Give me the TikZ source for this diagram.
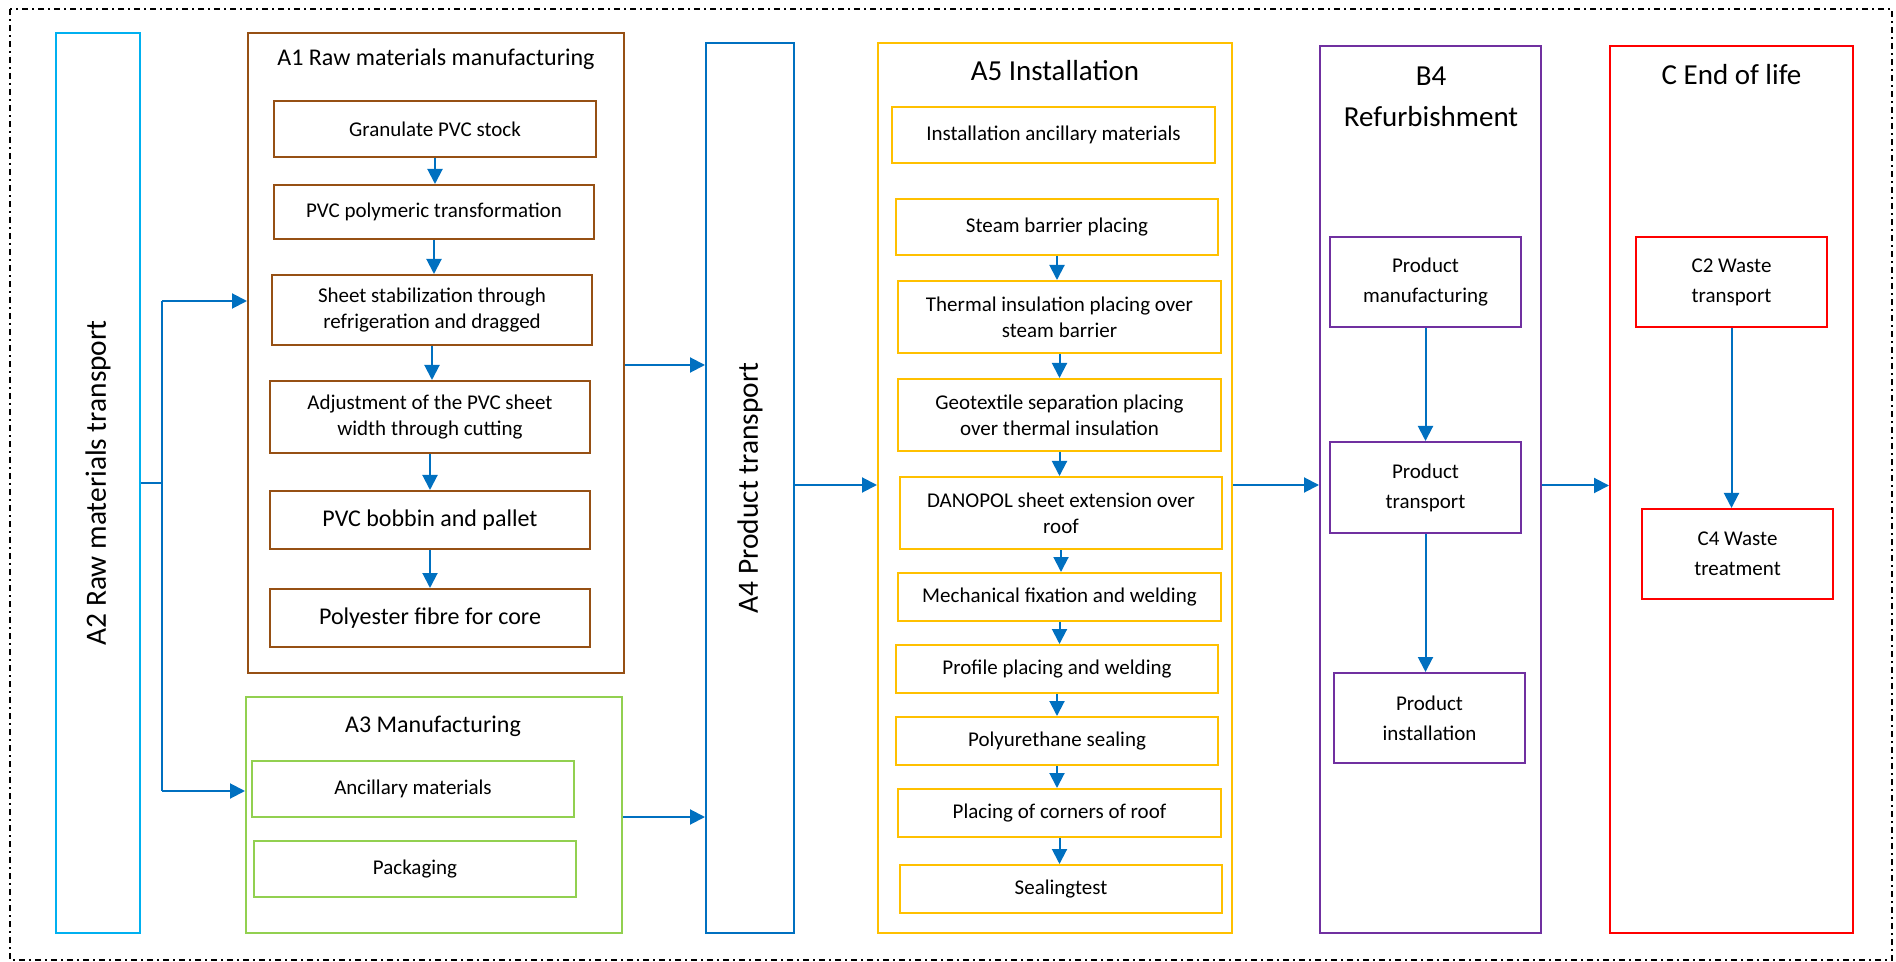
\documentclass[tikz,border=0pt]{standalone}
\usepackage{fontspec}
\setmainfont{Carlito}
\usetikzlibrary{arrows.meta,positioning}

\definecolor{tcyan}{HTML}{00B0F0}
\definecolor{tbrown}{RGB}{150,80,20}
\definecolor{tgreen}{HTML}{92D050}
\definecolor{tblue}{HTML}{0070C0}
\definecolor{tyellow}{HTML}{FFC000}
\definecolor{tpurple}{HTML}{7030A0}
\definecolor{tred}{HTML}{FF0000}

\newcommand{\stepfont}{\fontsize{10.5}{12.8}\selectfont}
\newcommand{\midfont}{\fontsize{12}{14.5}\selectfont}
\newcommand{\headfont}{\fontsize{14.5}{20.5}\selectfont}
\newcommand{\sidefont}{\fontsize{14.7}{17}\selectfont}
\newcommand{\wfont}{\fontsize{10.5}{15}\selectfont}

\begin{document}
\begin{tikzpicture}[x=0.5pt, y=-0.5pt,
  >={Triangle[width=7.5pt,length=7.5pt]},
  every node/.style={inner sep=0pt, align=center, font=\stepfont},
  stage/.style={draw=#1, line width=1pt},
  stepbox/.style={draw=#1, line width=1pt},
  flow/.style={->, draw=tblue, fill=tblue, line width=1pt},
  frame/.style={draw=black, line width=1pt, dash pattern=on 3pt off 2pt on 1pt off 2pt}]
\useasboundingbox (0,0) rectangle (1896,962);
\draw[frame] (10,9) rectangle (1892,960);

% A2
\node[stage=tcyan, minimum width=42pt, minimum height=450pt] (A2) at (98,483) {};
\node[rotate=90, font=\sidefont] (A2t) at (A2) {A2 Raw materials transport};

% A1
\node[stage=tbrown, minimum width=188pt, minimum height=320pt] (A1) at (436,353) {};
\node[font=\midfont] (A1t) at (436,59) {A1 Raw materials manufacturing};
\node[stepbox=tbrown, minimum width=161pt, minimum height=28pt] (g1) at (435,129) {Granulate PVC stock};
\node[stepbox=tbrown, minimum width=160pt, minimum height=27pt] (g2) at (434,212) {PVC polymeric transformation};
\node[stepbox=tbrown, minimum width=160pt, minimum height=35pt] (g3) at (432,310) {Sheet stabilization through\\refrigeration and dragged};
\node[stepbox=tbrown, minimum width=160pt, minimum height=36pt] (g4) at (430,417) {Adjustment of the PVC sheet\\width through cutting};
\node[stepbox=tbrown, minimum width=160pt, minimum height=29pt, font=\midfont] (g5) at (430,520) {PVC bobbin and pallet};
\node[stepbox=tbrown, minimum width=160pt, minimum height=29pt, font=\midfont] (g6) at (430,618) {Polyester fibre for core};

% A3
\node[stage=tgreen, minimum width=188pt, minimum height=118pt] (A3) at (434,815) {};
\node[font=\midfont] (A3t) at (433,726) {A3 Manufacturing};
\node[stepbox=tgreen, minimum width=161pt, minimum height=28pt] (m1) at (413,789) {Ancillary materials};
\node[stepbox=tgreen, minimum width=161pt, minimum height=28pt] (m2) at (415,869) {Packaging};

% A4
\node[stage=tblue, minimum width=44pt, minimum height=445pt] (A4) at (750,488) {};
\node[rotate=90, font=\sidefont] (A4t) at (A4) {A4 Product transport};

% A5
\node[stage=tyellow, minimum width=177pt, minimum height=445pt] (A5) at (1055,488) {};
\node[font=\headfont] (A5t) at (1055,71) {A5 Installation};
\node[stepbox=tyellow, minimum width=161.5pt, minimum height=28pt] (i0) at (1053.5,135) {Installation ancillary materials};
\node[stepbox=tyellow, minimum width=161pt, minimum height=28pt] (i1) at (1057,227) {Steam barrier placing};
\node[stepbox=tyellow, minimum width=161.5pt, minimum height=36pt] (i2) at (1059.5,317) {Thermal insulation placing over\\steam barrier};
\node[stepbox=tyellow, minimum width=161.5pt, minimum height=36pt] (i3) at (1059.5,415) {Geotextile separation placing\\over thermal insulation};
\node[stepbox=tyellow, minimum width=161pt, minimum height=36pt] (i4) at (1061,513) {DANOPOL sheet extension over\\roof};
\node[stepbox=tyellow, minimum width=161.5pt, minimum height=24pt] (i5) at (1059.5,597) {Mechanical fixation and welding};
\node[stepbox=tyellow, minimum width=161pt, minimum height=24pt] (i6) at (1057,669) {Profile placing and welding};
\node[stepbox=tyellow, minimum width=161pt, minimum height=24pt] (i7) at (1057,741) {Polyurethane sealing};
\node[stepbox=tyellow, minimum width=161.5pt, minimum height=24pt] (i8) at (1059.5,813) {Placing of corners of roof};
\node[stepbox=tyellow, minimum width=161pt, minimum height=24pt] (i9) at (1061,889) {Sealingtest};

% B4
\node[stage=tpurple, minimum width=110.5pt, minimum height=443.5pt] (B4) at (1430.5,489.5) {};
\node[font=\headfont] (B4t) at (1431,97) {B4\\Refurbishment};
\node[stepbox=tpurple, minimum width=95.5pt, minimum height=45pt, font=\wfont] (b1) at (1425.5,282) {Product\\manufacturing};
\node[stepbox=tpurple, minimum width=95.5pt, minimum height=45.5pt, font=\wfont] (b2) at (1425.5,487.5) {Product\\transport};
\node[stepbox=tpurple, minimum width=95.5pt, minimum height=45pt, font=\wfont] (b3) at (1429.5,718) {Product\\installation};

% C
\node[stage=tred, minimum width=121.5pt, minimum height=443.5pt] (C) at (1731.5,489.5) {};
\node[font=\headfont] (Ct) at (1731.5,75) {C End of life};
\node[stepbox=tred, minimum width=95.5pt, minimum height=45pt, font=\wfont] (c1) at (1731.5,282) {C2 Waste\\transport};
\node[stepbox=tred, minimum width=95.5pt, minimum height=45pt, font=\wfont] (c2) at (1737.5,554) {C4 Waste\\treatment};

% branch out of A2
\coordinate (br1) at (162,301);
\coordinate (br2) at (162,791);
\draw[tblue, line width=1pt] (A2.east) -- (A2.east -| br1);
\draw[tblue, line width=1pt] (br1) -- (br2);
\draw[flow] (br1) -- (br1 -| A1.west);
\draw[flow] (br2) -- (br2 -| A3.west);

% main flow
\draw[flow] ([yshift=-6pt]A1.east) -- ([yshift=-6pt]A1.east -| A4.west);
\draw[flow] ([yshift=-1pt]A3.east) -- ([yshift=-1pt]A3.east -| A4.west);
\draw[flow] ([yshift=1.5pt]A4.east) -- ([yshift=1.5pt]A4.east -| A5.west);
\draw[flow] ([yshift=1.5pt]A5.east) -- ([yshift=1.5pt]A5.east -| B4.west);
\draw[flow] ([yshift=2pt]B4.east) -- ([yshift=2pt]B4.east -| C.west);

% steps inside
\foreach \a/\b in {g1/g2, g2/g3, g3/g4, g4/g5, g5/g6, i1/i2, i2/i3, i3/i4, i4/i5, i5/i6, i6/i7, i7/i8, i8/i9, b1/b2, b2/b3, c1/c2}
  \draw[flow] (\a.south) -- (\a.south |- \b.north);
\end{tikzpicture}
\end{document}
